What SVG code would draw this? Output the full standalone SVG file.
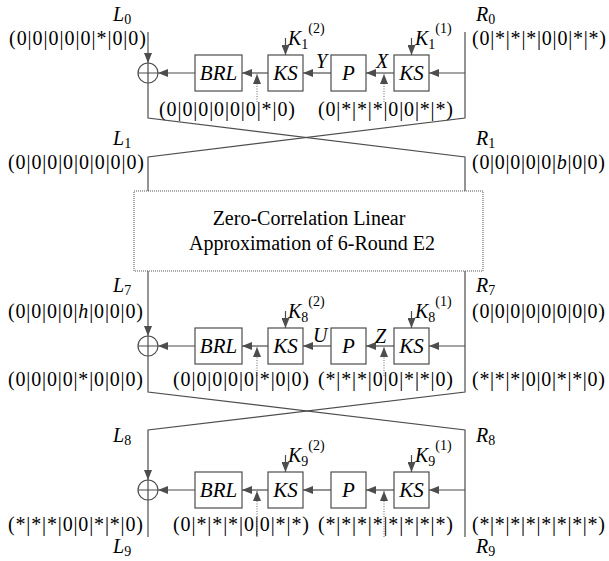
<svg xmlns="http://www.w3.org/2000/svg" width="609" height="561" viewBox="0 0 609 561">
<style>
.ln{stroke:#4d4d4d;stroke-width:1.2;fill:none}
.bx{fill:#fff;stroke:#4d4d4d;stroke-width:1.2}
.dt{stroke:#666;stroke-width:1;stroke-dasharray:1 1.5;fill:none}
.t{font-family:"Liberation Serif","Times New Roman",serif;font-size:20px;fill:#000}
.b{font-size:21px}
.i{font-style:italic}
.s{font-size:14px}
.m{text-anchor:middle}
.e{text-anchor:end}
</style>
<defs>
<marker id="ah" markerWidth="10" markerHeight="8" refX="10" refY="4" orient="auto" markerUnits="userSpaceOnUse"><path d="M0,0 L10,4 L0,8 z" fill="#4d4d4d"/></marker>
</defs>

<g id="connectors">
<!-- round 1 -->
<path class="ln" d="M148,32 V63" marker-end="url(#ah)"/>
<path class="ln" d="M148,83 V118 L465,157 V191"/>
<path class="ln" d="M465,32 V118 L148,157 V191"/>
<path class="ln" d="M465,73 H429" marker-end="url(#ah)"/>
<path class="ln" d="M394,73 H366" marker-end="url(#ah)"/>
<path class="ln" d="M331,73 H303" marker-end="url(#ah)"/>
<path class="ln" d="M268,73 H242" marker-end="url(#ah)"/>
<path class="ln" d="M195,73 H158" marker-end="url(#ah)"/>
<path class="ln" d="M285.5,38 V55" marker-end="url(#ah)"/>
<path class="ln" d="M411.5,38 V55" marker-end="url(#ah)"/>
<path class="dt" d="M257,102 V74" marker-end="url(#ah)"/>
<path class="dt" d="M384,102 V74" marker-end="url(#ah)"/>
<!-- round 2 -->
<path class="ln" d="M148,271 V336" marker-end="url(#ah)"/>
<path class="ln" d="M148,356 V392 L465,430 V537"/>
<path class="ln" d="M465,271 V392 L148,430 V480" marker-end="url(#ah)"/>
<path class="ln" d="M465,346 H429" marker-end="url(#ah)"/>
<path class="ln" d="M394,346 H366" marker-end="url(#ah)"/>
<path class="ln" d="M331,346 H303" marker-end="url(#ah)"/>
<path class="ln" d="M268,346 H242" marker-end="url(#ah)"/>
<path class="ln" d="M195,346 H158" marker-end="url(#ah)"/>
<path class="ln" d="M285.5,311 V328" marker-end="url(#ah)"/>
<path class="ln" d="M411.5,311 V328" marker-end="url(#ah)"/>
<path class="dt" d="M257,376 V347" marker-end="url(#ah)"/>
<path class="dt" d="M384,376 V347" marker-end="url(#ah)"/>
<!-- round 3 -->
<path class="ln" d="M148,500 V537"/>
<path class="ln" d="M465,490 H429" marker-end="url(#ah)"/>
<path class="ln" d="M394,490 H366" marker-end="url(#ah)"/>
<path class="ln" d="M331,490 H303" marker-end="url(#ah)"/>
<path class="ln" d="M268,490 H242" marker-end="url(#ah)"/>
<path class="ln" d="M195,490 H158" marker-end="url(#ah)"/>
<path class="ln" d="M285.5,455 V472" marker-end="url(#ah)"/>
<path class="ln" d="M411.5,455 V472" marker-end="url(#ah)"/>
<path class="dt" d="M257,537 V491" marker-end="url(#ah)"/>
<path class="dt" d="M384,537 V491" marker-end="url(#ah)"/>
</g>

<g id="round1">
<g id="xor1"><circle class="ln" cx="148" cy="73" r="10"/><path class="ln" d="M138,73 H158 M148,63 V83"/></g>
<g id="brl1"><rect class="bx" x="195" y="55" width="47" height="36"/><text class="t b i m" x="218.5" y="80">BRL</text></g>
<g id="ks1a"><rect class="bx" x="268" y="55" width="35" height="36"/><text class="t b i m" x="285.5" y="80">KS</text></g>
<g id="p1"><rect class="bx" x="331" y="55" width="35" height="36"/><text class="t b i m" x="348.5" y="80">P</text></g>
<g id="ks1b"><rect class="bx" x="394" y="55" width="35" height="36"/><text class="t b i m" x="411.5" y="80">KS</text></g>
<text class="t" x="288" y="45"><tspan class="i">K</tspan><tspan class="s" dy="4">1</tspan><tspan class="s" dy="-16">(2)</tspan></text>
<text class="t" x="415" y="45"><tspan class="i">K</tspan><tspan class="s" dy="4">1</tspan><tspan class="s" dy="-16">(1)</tspan></text>
<text class="t i" x="316" y="68">Y</text>
<text class="t i" x="376" y="68">X</text>
</g>

<g id="round2">
<g id="xor2"><circle class="ln" cx="148" cy="346" r="10"/><path class="ln" d="M138,346 H158 M148,336 V356"/></g>
<g id="brl2"><rect class="bx" x="195" y="328" width="47" height="36"/><text class="t b i m" x="218.5" y="353">BRL</text></g>
<g id="ks2a"><rect class="bx" x="268" y="328" width="35" height="36"/><text class="t b i m" x="285.5" y="353">KS</text></g>
<g id="p2"><rect class="bx" x="331" y="328" width="35" height="36"/><text class="t b i m" x="348.5" y="353">P</text></g>
<g id="ks2b"><rect class="bx" x="394" y="328" width="35" height="36"/><text class="t b i m" x="411.5" y="353">KS</text></g>
<text class="t" x="288" y="318"><tspan class="i">K</tspan><tspan class="s" dy="4">8</tspan><tspan class="s" dy="-16">(2)</tspan></text>
<text class="t" x="415" y="318"><tspan class="i">K</tspan><tspan class="s" dy="4">8</tspan><tspan class="s" dy="-16">(1)</tspan></text>
<text class="t i" x="313" y="342">U</text>
<text class="t i" x="375" y="343">Z</text>
</g>

<g id="round3">
<g id="xor3"><circle class="ln" cx="148" cy="490" r="10"/><path class="ln" d="M138,490 H158 M148,480 V500"/></g>
<g id="brl3"><rect class="bx" x="195" y="472" width="47" height="36"/><text class="t b i m" x="218.5" y="497">BRL</text></g>
<g id="ks3a"><rect class="bx" x="268" y="472" width="35" height="36"/><text class="t b i m" x="285.5" y="497">KS</text></g>
<g id="p3"><rect class="bx" x="331" y="472" width="35" height="36"/><text class="t b i m" x="348.5" y="497">P</text></g>
<g id="ks3b"><rect class="bx" x="394" y="472" width="35" height="36"/><text class="t b i m" x="411.5" y="497">KS</text></g>
<text class="t" x="288" y="462"><tspan class="i">K</tspan><tspan class="s" dy="4">9</tspan><tspan class="s" dy="-16">(2)</tspan></text>
<text class="t" x="415" y="462"><tspan class="i">K</tspan><tspan class="s" dy="4">9</tspan><tspan class="s" dy="-16">(1)</tspan></text>
</g>

<g id="zc-box">
<rect x="134" y="191" width="349" height="80" fill="#fff" stroke="#555" stroke-width="1" stroke-dasharray="1 1"/>
<text class="t m" x="309" y="225">Zero-Correlation Linear</text>
<text class="t m" x="312" y="250">Approximation of 6-Round E2</text>
</g>

<g id="labels">
<text class="t" x="113" y="21"><tspan class="i">L</tspan><tspan class="s" dy="3">0</tspan></text>
<text class="t" x="476" y="21"><tspan class="i">R</tspan><tspan class="s" dy="3">0</tspan></text>
<text class="t e" x="146" y="45" textLength="137" lengthAdjust="spacing">(0|0|0|0|0|*|0|0)</text>
<text class="t" x="472" y="45" textLength="134" lengthAdjust="spacing">(0|*|*|*|0|0|*|*)</text>
<text class="t" x="159" y="116" textLength="136" lengthAdjust="spacing">(0|0|0|0|0|0|*|0)</text>
<text class="t" x="318" y="116" textLength="135" lengthAdjust="spacing">(0|*|*|*|0|0|*|*)</text>

<text class="t" x="113" y="145"><tspan class="i">L</tspan><tspan class="s" dy="3">1</tspan></text>
<text class="t" x="476" y="145"><tspan class="i">R</tspan><tspan class="s" dy="3">1</tspan></text>
<text class="t e" x="144" y="169" textLength="136" lengthAdjust="spacing">(0|0|0|0|0|0|0|0)</text>
<text class="t" x="472" y="169" textLength="133" lengthAdjust="spacing">(0|0|0|0|0|<tspan class="i">b</tspan>|0|0)</text>

<text class="t" x="113" y="292"><tspan class="i">L</tspan><tspan class="s" dy="3">7</tspan></text>
<text class="t" x="476" y="292"><tspan class="i">R</tspan><tspan class="s" dy="3">7</tspan></text>
<text class="t e" x="143" y="318" textLength="135" lengthAdjust="spacing">(0|0|0|0|<tspan class="i">h</tspan>|0|0|0)</text>
<text class="t" x="472" y="318" textLength="133" lengthAdjust="spacing">(0|0|0|0|0|0|0|0)</text>
<text class="t e" x="143" y="386" textLength="135" lengthAdjust="spacing">(0|0|0|0|*|0|0|0)</text>
<text class="t" x="173" y="386" textLength="136" lengthAdjust="spacing">(0|0|0|0|0|*|0|0)</text>
<text class="t" x="318" y="386" textLength="135" lengthAdjust="spacing">(*|*|*|0|0|*|*|0)</text>
<text class="t" x="472" y="386" textLength="133" lengthAdjust="spacing">(*|*|*|0|0|*|*|0)</text>

<text class="t" x="113" y="442"><tspan class="i">L</tspan><tspan class="s" dy="3">8</tspan></text>
<text class="t" x="476" y="442"><tspan class="i">R</tspan><tspan class="s" dy="3">8</tspan></text>
<text class="t e" x="143" y="531" textLength="135" lengthAdjust="spacing">(*|*|*|0|0|*|*|0)</text>
<text class="t" x="173" y="531" textLength="136" lengthAdjust="spacing">(0|*|*|*|0|0|*|*)</text>
<text class="t" x="318" y="531" textLength="135" lengthAdjust="spacing">(*|*|*|*|*|*|*|*)</text>
<text class="t" x="472" y="531" textLength="133" lengthAdjust="spacing">(*|*|*|*|*|*|*|*)</text>
<text class="t" x="113" y="553"><tspan class="i">L</tspan><tspan class="s" dy="3">9</tspan></text>
<text class="t" x="476" y="553"><tspan class="i">R</tspan><tspan class="s" dy="3">9</tspan></text>
</g>
</svg>
